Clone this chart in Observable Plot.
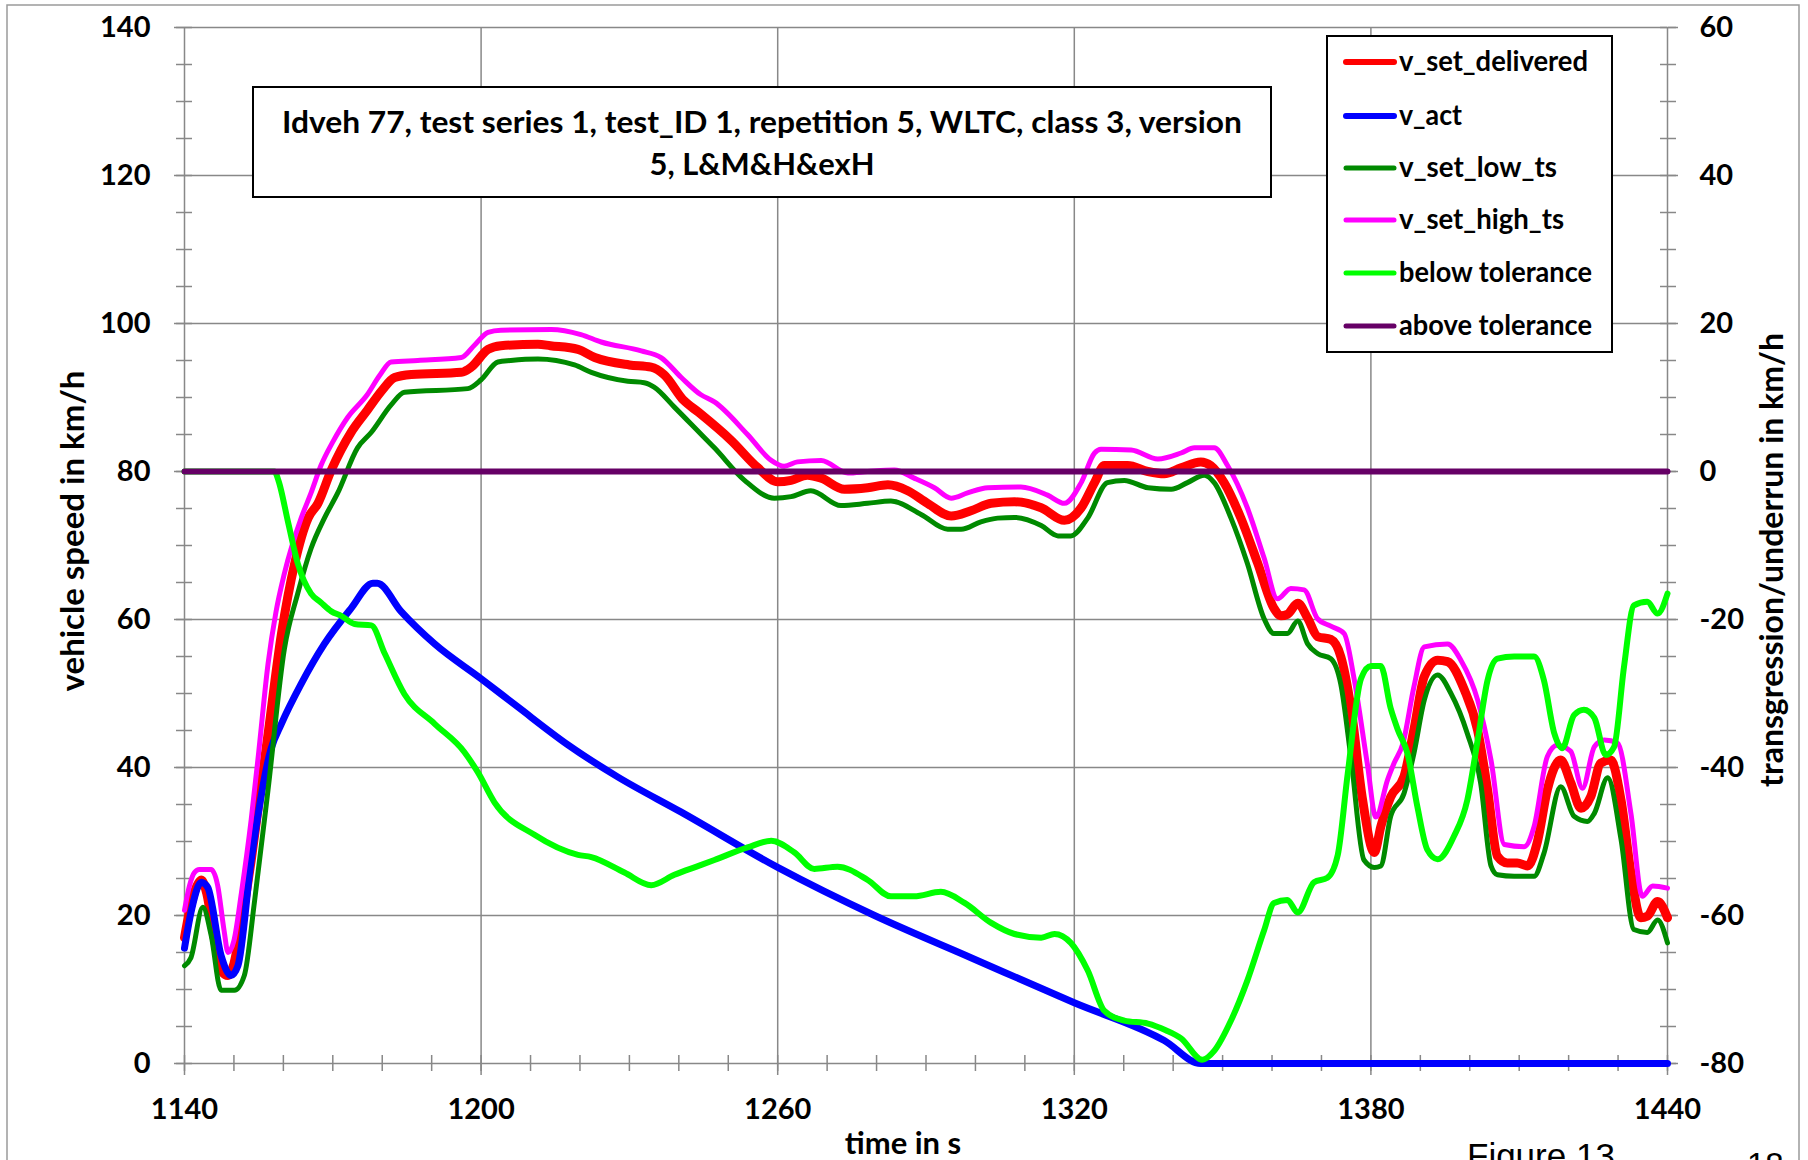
<!DOCTYPE html>
<html><head><meta charset="utf-8">
<script src="https://cdn.jsdelivr.net/npm/d3@7"></script>
<script src="https://cdn.jsdelivr.net/npm/@observablehq/plot@0.6"></script>
<style>body{margin:0;background:#fff;} svg{display:block}</style>
</head><body><div id="chart"></div><script>
// ---- axis ticks ----
const xMajor = [1140, 1200, 1260, 1320, 1380, 1440];
const xMinor = [1140,1150,1160,1170,1180,1190,1200,1210,1220,1230,1240,1250,1260,1270,1280,1290,1300,1310,1320,1330,1340,1350,1360,1370,1380,1390,1400,1410,1420,1430,1440];
const yMajor = [0, 20, 40, 60, 80, 100, 120, 140];
const yLeftLabels = ["0","20","40","60","80","100","120","140"];
const yRightLabels = ["-80","-60","-40","-20","0","20","40","60"];
const rightOffset = 80; // right-axis 0 sits at left-axis 80
const yMinor = [0,5,10,15,20,25,30,35,40,45,50,55,60,65,70,75,80,85,90,95,100,105,110,115,120,125,130,135,140];

// ---- series ----
const setT = [1140,1141,1142.5,1143.4,1144.5,1146,1147.5,1148.8,1150,1151.5,1153.5,1155,1156.9,1159.6,1162.3,1165,1167,1169.7,1173.7,1177,1180,1182.5,1185.9,1196,1198,1201.4,1204,1211.5,1214,1219.6,1223,1230,1234.4,1237,1241,1244,1250.6,1256,1260,1262.7,1266,1268.8,1273.5,1278.2,1282.3,1286.3,1290.3,1295.1,1299.1,1303.2,1307.9,1313.3,1318,1321.4,1324.1,1326.1,1330.8,1334.9,1338.2,1341.6,1345.6,1347.6,1350.3,1353.7,1357.1,1360.4,1361.8,1363.1,1365.2,1367.2,1369.2,1371.9,1373.9,1376,1378.3,1380.7,1382,1384,1386.7,1388.7,1390.8,1393.5,1395.5,1398.9,1401.6,1403.6,1405.6,1407.6,1409.6,1411.7,1413.7,1415.7,1418.4,1420.4,1422.5,1424.5,1426.5,1428.5,1430.6,1432.6,1434.6,1435.9,1438,1440];
const setV = [17,20.5,24,24.8,23,17,12.5,11.9,13.5,19,27.5,35,44.5,58,67.6,73.7,75.7,80.2,85.3,88.3,91,92.7,93.1,93.4,94.1,96.5,97,97.2,97,96.5,95.4,94.4,94.1,93.1,89.6,88,84.2,80.5,78.6,78.8,79.5,79.1,77.6,77.8,78.2,77.4,75.7,74,74.7,75.7,75.9,75.1,73.4,75.1,78.5,80.8,80.8,80,79.7,80.5,81.3,80.8,78.5,73.7,67.6,61.5,60.5,60.7,62.2,60.2,57.7,57.3,55,47.9,35.7,28.5,32,36,38.8,45.1,52.3,54.5,54.3,50.5,45,37,28,27.1,27.1,26.7,30,37,41,38,34.5,36.1,40.6,41,35.6,25.8,19.7,19.9,21.9,19.7];

const actT = [1140,1141.5,1143.4,1144.7,1147.4,1149.4,1150.8,1153.5,1157.5,1159.6,1163.6,1168.3,1173.7,1178.1,1179,1183.8,1190.6,1200,1207.4,1217.5,1227.7,1240.4,1260,1279.6,1299.1,1320,1338.2,1345.6,1440];
const actV = [15.6,21,24.5,23.8,14.6,11.9,13.2,27.5,42.5,45.9,51.3,56.7,61.5,64.9,64.9,61.1,56.7,52,48.2,43.1,38.7,34,26.5,20,14.3,8.2,3.1,0,0];

const lowT = [1140,1141.3,1143.7,1145.4,1147.4,1150.1,1152.1,1154.2,1156.9,1160.2,1162.9,1165.6,1168.3,1171,1175,1177.8,1181.8,1184.5,1197.3,1200,1203.4,1206,1211.5,1218.9,1222.3,1229.7,1233,1235,1239.1,1244.4,1247.2,1253.3,1259.3,1262.7,1266.7,1272.8,1278.2,1282.9,1289,1294.4,1297.1,1301.1,1304.5,1307.9,1313.3,1316.7,1319.3,1322.7,1326.7,1330.1,1334.9,1339.6,1342.9,1346.3,1348.3,1351.7,1355,1358.4,1360.4,1363.1,1365.2,1367.2,1369.2,1371.9,1373.9,1376,1378.6,1380.7,1382,1384,1386.7,1388.7,1390.8,1393.5,1396.2,1399.5,1402.2,1404.3,1405.6,1409,1413,1415,1418.4,1421.1,1423.8,1425.2,1427.9,1430.6,1433.2,1435.9,1438,1440];
const lowV = [13.2,14.3,21.1,17.3,9.9,9.9,11.9,22.1,37,56,63.5,69.6,73.7,77.1,83.2,85.3,89,90.7,91.2,92.4,94.8,95,95.2,94.4,93.4,92.2,92,91.4,88.7,85.1,83.2,78.8,76.4,76.6,77.4,75.4,75.7,76,74.2,72.2,72.2,73.2,73.7,73.8,72.7,71.3,71.3,73.7,78.5,78.8,77.8,77.6,78.5,79.5,78.5,73.7,67.6,60.1,58.1,58.1,59.8,56.7,55.4,54.7,51.3,41.1,27.5,26.5,26.7,33.4,36.5,41.9,49.1,52.5,50,44.6,37.9,26.7,25.5,25.3,25.3,28.4,37.4,33.4,32.7,33.8,38.6,30.3,18.1,17.7,19.4,16.3];

const highT = [1140,1141,1142,1143,1145.4,1146.7,1148,1148.8,1150,1151.5,1153.5,1155,1156.9,1158.5,1160.2,1163.6,1165.6,1167.6,1170,1173,1177,1179.5,1181.8,1187.2,1196,1198.7,1201.4,1204,1214.2,1220.2,1224.3,1232.4,1236.4,1240.5,1244.4,1247.2,1253.9,1258.7,1261.3,1264,1268.8,1274.2,1278.2,1283.6,1287.6,1291.7,1295.1,1298.4,1302.5,1309.2,1314.6,1318,1321.4,1324.1,1325.4,1331.5,1336.9,1341.6,1344.3,1348.3,1351,1355,1358.4,1361.1,1363.8,1366.5,1369.2,1371.9,1374.6,1376.6,1379.3,1381,1383.4,1384.7,1386.5,1388.7,1390.8,1395.5,1398.2,1401.6,1404.3,1407,1411,1413,1415.7,1417.7,1420.4,1422.8,1425.2,1427.2,1429.9,1432.6,1434.9,1437,1440];
const highV = [20.7,24,25.8,26.2,26.2,24.1,18,15,16.6,23,33,42,54,61,66.2,73.7,77.1,80.8,84,87.3,90.4,93,94.8,95,95.4,97.1,98.8,99.1,99.2,98.5,97.5,96.3,95.4,92.7,90.4,89.4,85,81.5,80.7,81.3,81.5,79.8,80,80.2,79.1,77.8,76.4,77.1,77.8,77.9,76.8,75.7,78.5,82.5,83,82.9,81.7,82.5,83.2,83.2,80.8,75.1,68.3,62.8,64.2,64,60.1,59.1,58.1,52,40.4,33.3,38.4,40.6,43.3,50.9,56.3,56.7,54.5,49.1,41,29.6,29.3,32,41.5,43,42.2,37.2,42.8,43.7,43.3,33.8,22.6,24,23.7];

// right-axis series (transgression / underrun, km/h)
const belowT = [1140,1158.2,1159,1161,1162.9,1165.6,1167.6,1169.7,1171.7,1174.4,1177.8,1180.5,1184.5,1190.6,1196.6,1199.3,1202.7,1210.8,1219.6,1222.3,1229,1234.4,1239.1,1244.4,1247.2,1253.9,1258.7,1263.4,1267.4,1272.1,1278.2,1282.9,1287.6,1293,1297.8,1303.2,1307.9,1313.3,1316,1319.3,1322.7,1326.1,1330.1,1334.9,1338.5,1341.6,1345.9,1348.3,1351.7,1355,1358.4,1360.4,1363.1,1365.2,1368.5,1371.2,1373.3,1375.3,1378,1380,1382,1384,1385.5,1387.4,1389.4,1391.4,1393.5,1396.8,1399.5,1401.6,1403.6,1405.6,1409,1413,1415,1417.1,1418.7,1421.1,1423.1,1425.2,1427.5,1429.2,1431.2,1433.2,1435.9,1438,1440];
const belowV = [0,0,-1.2,-7,-12.4,-16.5,-17.7,-18.9,-19.5,-20.6,-20.8,-24.6,-30.1,-34.1,-37.9,-40.6,-44.7,-49.1,-51.8,-52.1,-54.2,-55.9,-54.5,-53.2,-52.5,-50.8,-49.9,-51.5,-53.7,-53.4,-55.2,-57.4,-57.4,-56.8,-58.3,-61,-62.5,-63,-62.5,-63.7,-67.4,-72.9,-74.2,-74.6,-75.5,-76.6,-79.5,-78.3,-74.2,-68.8,-62,-58.3,-57.9,-59.6,-55.5,-54.9,-51.8,-40.9,-28,-26.3,-26.3,-32,-35,-38.1,-45.3,-51.1,-52.4,-49.3,-44.4,-36.3,-28.2,-25.3,-25,-25,-28.2,-35.4,-37.4,-32.9,-32.2,-33.3,-38.3,-37.2,-26.4,-18.1,-17.6,-19.2,-16.5];
const aboveT = [1140, 1440];
const aboveV = [0, 0];

const seriesNames = ["v_set_delivered","v_act","v_set_low_ts","v_set_high_ts","below tolerance","above tolerance"];
const seriesColors = ["#ff0000","#0000ff","#008a00","#ff00ff","#00ff00","#660066"];

const titleLines = ["Idveh 77, test series 1, test_ID 1, repetition 5, WLTC, class 3, version", "5, L&M&H&exH"];

// ---- build tables ----
const zip = (T, V) => T.map((t, i) => ({t, v: V[i]}));
const setD = zip(setT, setV), actD = zip(actT, actV), lowD = zip(lowT, lowV), highD = zip(highT, highV);
const belowD = zip(belowT, belowV), aboveD = zip(aboveT, aboveV);

const gray = "#888888";
const ax = {label: null, stroke: gray, strokeWidth: 1.5, strokeOpacity: 1, fill: "black", fontSize: 29, fontWeight: "bold", fontFamily: "Lato"};
const blank = () => "";

const plot = Plot.plot({
  width: 1808, height: 1160,
  marginTop: 27, marginBottom: 97, marginLeft: 184, marginRight: 141,
  x: {domain: [1140, 1440], axis: null},
  y: {domain: [0, 140], axis: null},
  style: {background: "white", fontFamily: "Lato", fontWeight: "bold", fontSize: "29px", color: "black", overflow: "visible"},
  marks: [
    Plot.gridX(xMajor, {stroke: gray, strokeOpacity: 1, strokeWidth: 1.5}),
    Plot.gridY(yMajor, {stroke: gray, strokeOpacity: 1, strokeWidth: 1.5}),
    Plot.axisX(xMinor, {...ax, anchor: "bottom", tickSize: 16, dy: -8, tickFormat: blank}),
    Plot.axisX(xMajor, {...ax, anchor: "bottom", tickSize: 12, tickPadding: 23, tickFormat: d => String(d)}),
    Plot.axisY(yMinor, {...ax, anchor: "left", tickSize: 16, dx: 8, tickFormat: blank}),
    Plot.axisY(yMajor, {...ax, anchor: "left", tickSize: 10, tickPadding: 24, tickFormat: d => yLeftLabels[yMajor.indexOf(d)]}),
    Plot.axisY(yMinor, {...ax, anchor: "right", tickSize: 16, dx: -8, tickFormat: blank}),
    Plot.axisY(yMajor, {...ax, anchor: "right", tickSize: 10, tickPadding: 22, tickFormat: d => yRightLabels[yMajor.indexOf(d)]}),
    Plot.line(setD, {x: "t", y: "v", stroke: seriesColors[0], strokeWidth: 9, curve: "monotone-x"}),
    Plot.line(actD, {x: "t", y: "v", stroke: seriesColors[1], strokeWidth: 7, curve: "monotone-x"}),
    Plot.line(lowD, {x: "t", y: "v", stroke: seriesColors[2], strokeWidth: 5, curve: "monotone-x"}),
    Plot.line(highD, {x: "t", y: "v", stroke: seriesColors[3], strokeWidth: 5, curve: "monotone-x"}),
    Plot.line(belowD, {x: "t", y: d => d.v + rightOffset, stroke: seriesColors[4], strokeWidth: 6, curve: "monotone-x"}),
    Plot.line(aboveD, {x: "t", y: d => d.v + rightOffset, stroke: seriesColors[5], strokeWidth: 6})
  ]
});

document.getElementById("chart").appendChild(plot);
const svg = d3.select(plot);

// outer chart-area frame
svg.insert("rect", ":first-child")
  .attr("x", 7).attr("y", 5).attr("width", 1792).attr("height", 1175)
  .attr("fill", "white").attr("stroke", "#9a9a9a").attr("stroke-width", 1.5);

const bold = sel => sel.attr("font-family", "Lato").attr("font-weight", "bold").attr("fill", "black");

// title box
const tg = svg.append("g");
tg.append("rect").attr("x", 253).attr("y", 87).attr("width", 1018).attr("height", 110)
  .attr("fill", "white").attr("stroke", "black").attr("stroke-width", 2);
tg.append("text").call(bold).attr("x", 762).attr("y", 133).attr("text-anchor", "middle")
  .attr("font-size", 30).attr("textLength", 960).attr("lengthAdjust", "spacingAndGlyphs").text(titleLines[0]);
tg.append("text").call(bold).attr("x", 762).attr("y", 175).attr("text-anchor", "middle")
  .attr("font-size", 30).attr("textLength", 225).attr("lengthAdjust", "spacingAndGlyphs").text(titleLines[1]);

// legend
const lg = svg.append("g");
lg.append("rect").attr("x", 1327).attr("y", 36).attr("width", 285).attr("height", 316)
  .attr("fill", "white").attr("stroke", "black").attr("stroke-width", 2);
const legY = [62, 116, 168, 220, 273, 326];
const legW = [189, 63, 158, 165, 193, 193];
seriesNames.forEach((name, i) => {
  lg.append("line").attr("x1", 1346).attr("x2", 1394).attr("y1", legY[i]).attr("y2", legY[i])
    .attr("stroke", seriesColors[i]).attr("stroke-width", i < 2 ? 6 : 5).attr("stroke-linecap", "round");
  lg.append("text").call(bold).attr("x", 1399).attr("y", legY[i] + 9).attr("font-size", 29)
    .attr("text-anchor", "start")
    .attr("textLength", legW[i]).attr("lengthAdjust", "spacingAndGlyphs").text(name);
});

// axis titles
svg.append("text").call(bold).attr("transform", "translate(84,531) rotate(-90)")
  .attr("text-anchor", "middle").attr("font-size", 33).text("vehicle speed in km/h");
svg.append("text").call(bold).attr("transform", "translate(1783,560) rotate(-90)")
  .attr("text-anchor", "middle").attr("font-size", 32).text("transgression/underrun in km/h");
svg.append("text").call(bold).attr("x", 903).attr("y", 1154)
  .attr("text-anchor", "middle").attr("font-size", 31).text("time in s");

// page caption fragments (cut by the bottom edge, as in the source page)
svg.append("text").attr("x", 1467).attr("y", 1168).attr("font-family", "Liberation Sans")
  .attr("text-anchor", "start").attr("font-size", 35).attr("font-weight", "normal").attr("fill", "black").text("Figure 13");
svg.append("text").attr("x", 1747).attr("y", 1176).attr("font-family", "Liberation Sans")
  .attr("text-anchor", "start").attr("font-size", 33).attr("font-weight", "normal").attr("fill", "black").text("18");
</script></body></html>
